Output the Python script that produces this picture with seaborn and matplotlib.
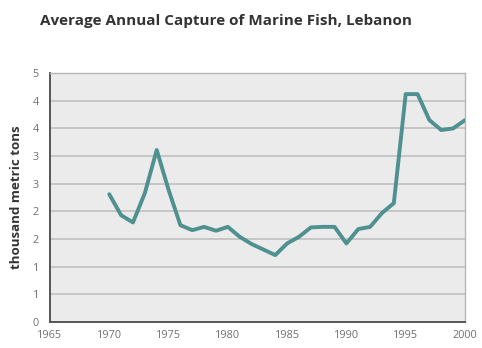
import numpy as np
import pandas as pd
import matplotlib
matplotlib.use("Agg")
import matplotlib.pyplot as plt
import seaborn as sns

# Annual marine fish capture, thousand metric tons
years = list(range(1970, 2001))
capture = [2.31, 1.93, 1.80, 2.33, 3.11, 2.39, 1.75, 1.66, 1.72, 1.65,
           1.72, 1.54, 1.41, 1.31, 1.21, 1.42, 1.54, 1.71, 1.72, 1.72,
           1.42, 1.68, 1.72, 1.97, 2.15, 4.12, 4.12, 3.65, 3.47, 3.50,
           3.65]

xtick_values = [1965, 1970, 1975, 1980, 1985, 1990, 1995, 2000]
ytick_values = [0, 0.5, 1, 1.5, 2, 2.5, 3, 3.5, 4, 4.5]
ytick_labels = ["0", "1", "1", "2", "2", "3", "3", "4", "4", "5"]

df = pd.DataFrame({"year": years, "capture": capture})

sns.set_theme(style="white")
plt.rcParams["font.family"] = ["Open Sans", "DejaVu Sans"]

fig = plt.figure(figsize=(4.82, 3.48), dpi=100)
ax = fig.add_axes([0.1037, 0.0747, 0.861, 0.7153])
ax.set_facecolor("#ebebeb")

sns.lineplot(data=df, x="year", y="capture", ax=ax, color="#4f9090",
             linewidth=2.8, solid_joinstyle="round", solid_capstyle="round",
             zorder=3)

ax.set_xlim(1965, 2000)
ax.set_ylim(0, 4.5)
ax.set_xticks(xtick_values)
ax.set_xticklabels([str(v) for v in xtick_values])
ax.set_yticks(ytick_values)
ax.set_yticklabels(ytick_labels)

ax.grid(axis="y", color="#c4c4c4", linewidth=1.3, zorder=1)
ax.grid(axis="x", visible=False)
ax.set_axisbelow(True)

ax.tick_params(axis="both", length=0, labelsize=7.8, labelcolor="#707070")
ax.tick_params(axis="x", pad=6)
ax.tick_params(axis="y", pad=8)

for side in ["left", "bottom"]:
    ax.spines[side].set_color("#555555")
    ax.spines[side].set_linewidth(1.4)
for side in ["right", "top"]:
    ax.spines[side].set_color("#b5b5b5")
    ax.spines[side].set_linewidth(1.0)

ax.set_xlabel("")
ax.set_ylabel("thousand metric tons", fontsize=9.6, fontweight="bold",
              color="#333333", labelpad=7)

fig.text(0.083, 0.94, "Average Annual Capture of Marine Fish, Lebanon",
         fontsize=11, fontweight="bold", color="#333333",
         ha="left", va="center")

fig.savefig("out.png", dpi=100)
